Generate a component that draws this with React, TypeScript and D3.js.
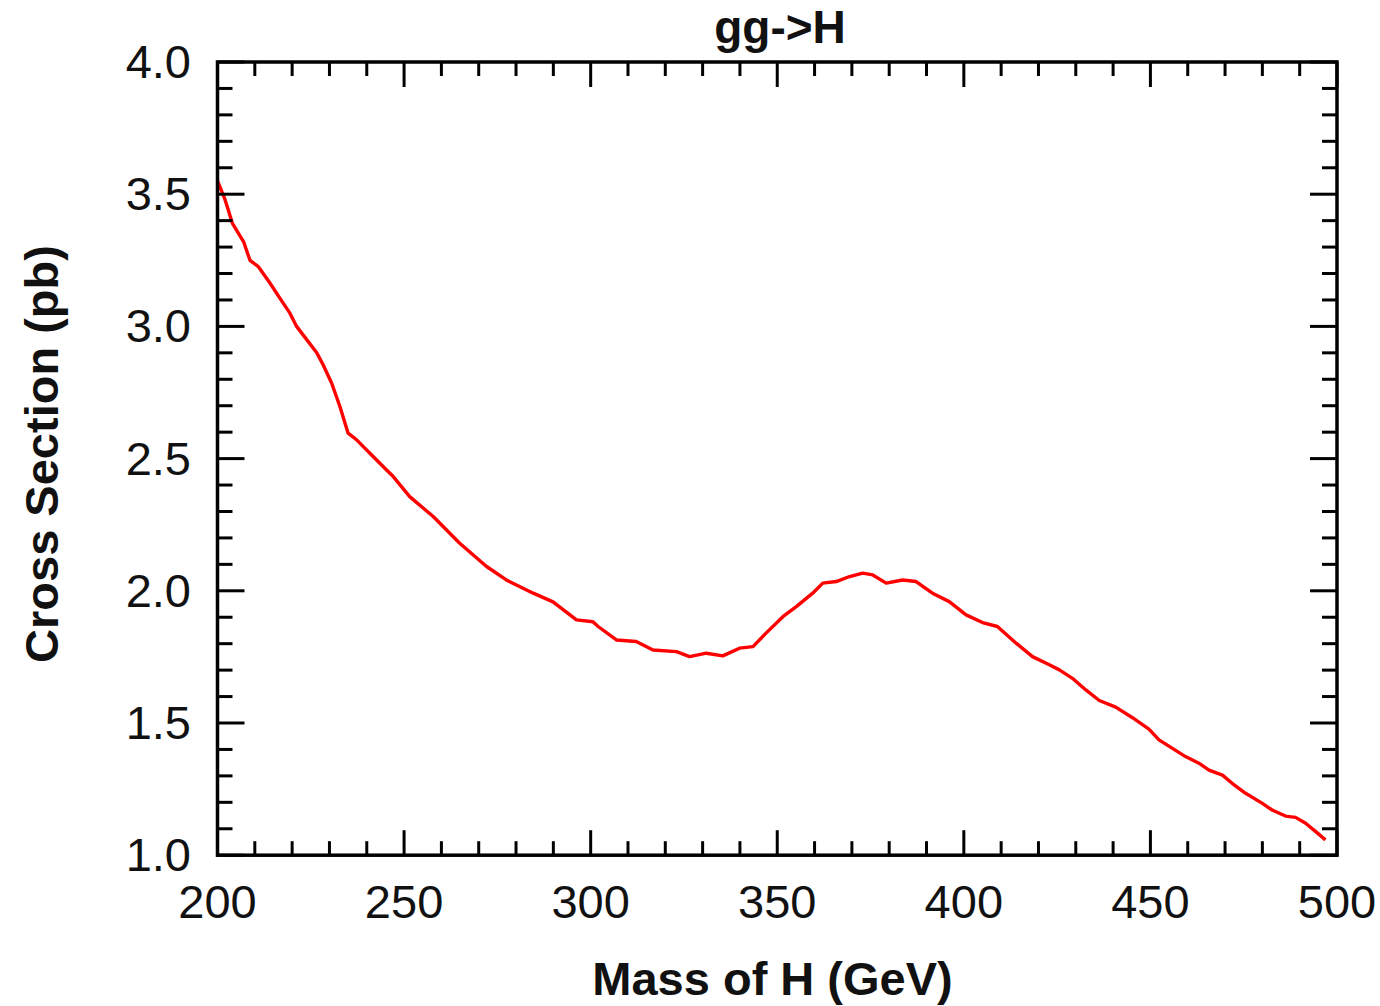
import React from "react";
import * as d3 from "d3";

// gg -> H production cross section versus Higgs mass
const massGeV = [
  200, 202, 204, 207, 208.7, 211, 214, 216.7, 219.4, 221.2, 223.9, 226.6, 228.3,
  230.6, 232.8, 235, 237.3, 239, 241.7, 245.3, 247.1, 251.5, 257.8, 264.9, 272.1,
  277.4, 284.6, 289.9, 296.2, 300.6, 302, 306.9, 312.2, 316.7, 323, 326.5, 331,
  335.4, 339.9, 343.5, 347, 351.5, 355.1, 359.5, 362.2, 365.8, 369.4, 372.9, 375.6,
  379.2, 383.6, 387.2, 391.6, 396.1, 400.6, 405, 409, 414, 418.4, 422.9, 425.6,
  429.1, 432.7, 436.3, 440.7, 445.2, 449.6, 452.3, 455.9, 459.4, 463, 465.7, 469.3,
  471.9, 475.5, 480, 482.6, 486.2, 488.9, 491.6, 494.3, 496.9,
];
const crossSectionPb = [
  3.55, 3.48, 3.39, 3.32, 3.25, 3.225, 3.165, 3.107, 3.05, 3.0, 2.95, 2.9, 2.855,
  2.785, 2.697, 2.596, 2.571, 2.546, 2.508, 2.457, 2.432, 2.356, 2.281, 2.18, 2.092,
  2.041, 1.991, 1.958, 1.89, 1.883, 1.865, 1.814, 1.808, 1.776, 1.77, 1.751, 1.764,
  1.754, 1.783, 1.789, 1.84, 1.902, 1.94, 1.991, 2.029, 2.035, 2.054, 2.067, 2.06,
  2.029, 2.041, 2.035, 1.991, 1.959, 1.909, 1.88, 1.865, 1.802, 1.751, 1.72, 1.701,
  1.669, 1.625, 1.585, 1.56, 1.52, 1.477, 1.436, 1.404, 1.373, 1.348, 1.322, 1.303,
  1.272, 1.234, 1.196, 1.171, 1.148, 1.143, 1.121, 1.089, 1.058,
];

const xTickLabels = [200, 250, 300, 350, 400, 450, 500];
const yTickLabels = ["1.0", "1.5", "2.0", "2.5", "3.0", "3.5", "4.0"];

const titleText = "gg->H";
const xTitle = "Mass of H (GeV)";
const yTitle = "Cross Section (pb)";

const W = 1380;
const H = 1006;
const left = 217.5;
const right = 1337;
const top = 62;
const bottom = 855.2;

const FONT = "'Liberation Sans', Arial, Helvetica, sans-serif";

export default function App() {
  const x = d3.scaleLinear().domain([200, 500]).range([left, right]);
  const y = d3.scaleLinear().domain([1, 4]).range([bottom, top]);

  const line = d3
    .line<number>()
    .x((_, i) => x(massGeV[i]))
    .y((d) => y(d));

  // minor ticks every 10 GeV, major every 50 GeV
  const xTicks = d3.range(0, 31).map((i) => ({ v: 200 + i * 10, major: i % 5 === 0 }));
  // minor ticks every 0.1 pb, major every 0.5 pb
  const yTicks = d3.range(0, 31).map((i) => ({ v: 1 + i * 0.1, major: i % 5 === 0 }));

  const xMinor = 14;
  const xMajor = 25;
  const yMinor = 15;
  const yMajor = 27;

  return (
    <svg
      width={W}
      height={H}
      style={{ position: "absolute", left: 0, top: 0, background: "#fff" }}
    >
      {/* curve */}
      <path
        d={line(crossSectionPb) || ""}
        fill="none"
        stroke="#ff0000"
        strokeWidth={3.4}
        strokeLinejoin="round"
      />

      {/* ticks on all four sides, pointing inward */}
      <g stroke="#000" strokeWidth={3}>
        {xTicks.map((t) => {
          const px = x(t.v);
          const len = t.major ? xMajor : xMinor;
          return (
            <g key={"x" + t.v}>
              <line x1={px} x2={px} y1={bottom} y2={bottom - len} />
              <line x1={px} x2={px} y1={top} y2={top + len} />
            </g>
          );
        })}
        {yTicks.map((t) => {
          const py = y(t.v);
          const len = t.major ? yMajor : yMinor;
          return (
            <g key={"y" + t.v.toFixed(1)}>
              <line x1={left} x2={left + len} y1={py} y2={py} />
              <line x1={right} x2={right - len} y1={py} y2={py} />
            </g>
          );
        })}
      </g>

      {/* frame */}
      <rect
        x={left}
        y={top}
        width={right - left}
        height={bottom - top}
        fill="none"
        stroke="#000"
        strokeWidth={3.5}
      />

      {/* tick labels */}
      <g fontFamily={FONT} fontSize={47} fill="#111">
        {xTickLabels.map((v) => (
          <text key={"xl" + v} x={x(v)} y={918} textAnchor="middle">
            {v}
          </text>
        ))}
        {yTickLabels.map((s) => (
          <text key={"yl" + s} x={191} y={y(+s) + 16} textAnchor="end">
            {s}
          </text>
        ))}
      </g>

      {/* titles */}
      <g fontFamily={FONT} fontWeight="bold" fill="#111">
        <text x={780} y={43} textAnchor="middle" fontSize={46}>
          {titleText}
        </text>
        <text x={772.5} y={995} textAnchor="middle" fontSize={47}>
          {xTitle}
        </text>
        <text
          transform="translate(58,454) rotate(-90)"
          textAnchor="middle"
          fontSize={47}
        >
          {yTitle}
        </text>
      </g>
    </svg>
  );
}
